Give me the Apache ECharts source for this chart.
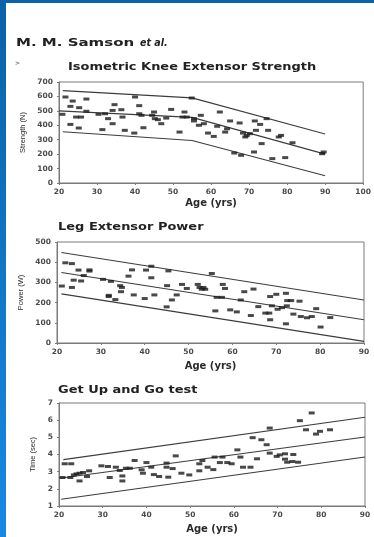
<!DOCTYPE html>
<html>
<head>
<meta charset="utf-8">
<script src="https://cdn.jsdelivr.net/npm/echarts@6/dist/echarts.min.js"></script>
<style>
  html, body { margin: 0; padding: 0; background: #ffffff; }
  #chart { width: 374px; height: 537px; }
</style>
</head>
<body>
<div id="chart"></div>
<script>
// Isometric knee extensor strength (N) by age
const kneeAge = [
  20.9,21.7,23.6,23.0,23.0,25.3,24.5,25.8,25.2,27.2,
  27.2,30.4,31.4,32.1,32.9,34.1,34.1,34.6,36.4,36.7,
  37.3,39.8,40.0,41.1,41.1,41.7,42.2,44.5,45.0,45.2,
  46.0,46.9,48.2,49.5,51.7,53.0,52.5,53.6,54.9,55.5,
  55.5,57.3,56.8,58.1,59.2,60.7,61.6,62.3,63.7,64.2,
  65.0,66.1,67.5,67.9,68.4,69.0,69.4,70.2,71.3,71.8,
  71.5,72.9,73.3,74.6,75.0,76.1,77.8,78.4,79.5,81.4,
  89.6,89.2
];
const kneeStrength = [
  476,596,568,531,406,522,457,457,381,582,
  497,476,370,480,446,411,503,543,508,457,
  365,346,596,536,480,469,383,469,492,446,
  439,411,450,510,353,492,457,457,589,446,
  430,469,400,411,346,323,393,492,353,376,
  430,208,416,192,346,319,330,342,215,365,
  430,406,273,446,365,169,319,330,176,279,
  215,203
];
// Regression line with its upper and lower limits (age, strength)
const kneeUpper  = [[21, 640], [55, 590], [90, 340]];
const kneeMiddle = [[20, 500], [55, 455], [90, 200]];
const kneeLower  = [[21, 355], [55, 295], [90, 50]];

// Leg extensor power (W) by age
const powerAge = [
  21.1,21.9,23.4,23.4,23.8,24.9,25.5,26.1,27.4,27.4,
  30.5,31.8,31.8,32.3,33.3,34.4,34.8,34.6,36.3,37.1,
  37.5,40.3,40.0,41.5,41.5,42.2,45.0,45.1,45.4,46.2,
  47.3,48.5,49.6,52.1,52.5,53.0,53.4,53.8,55.3,56.1,
  56.4,57.6,57.8,58.3,59.5,61.0,61.9,62.7,64.2,64.8,
  65.9,67.5,68.4,68.6,69.0,68.6,70.0,70.3,71.3,72.2,
  72.5,72.4,72.2,73.4,73.9,75.3,75.6,77.0,78.1,79.1,
  80.1,82.3
];
const powerWatts = [
  282,397,393,275,311,361,307,334,362,356,
  315,236,230,305,215,284,275,254,331,362,
  238,361,220,380,323,238,179,284,357,213,
  238,290,270,290,275,266,275,266,344,159,
  226,226,290,270,164,154,213,254,136,267,
  180,148,148,230,184,115,241,167,175,246,
  210,184,95,210,143,207,131,125,131,170,
  79,126
];
const powerUpper  = [[21, 448], [90, 213]];
const powerMiddle = [[21, 349], [90, 115]];
const powerLower  = [[21, 243], [90, 8]];

// Get Up and Go test time (sec) by age
const gugAge = [
  20.8,21.3,22.8,22.6,23.4,24.0,24.7,24.7,25.5,26.4,
  26.9,29.7,31.2,31.6,33.0,33.9,34.5,35.3,34.5,36.2,
  37.3,38.9,39.2,40.0,41.1,41.7,42.9,44.6,44.6,45.0,
  46.0,46.7,48.0,49.8,52.1,52.1,52.8,54.0,55.3,55.6,
  56.8,57.4,58.5,59.5,60.8,61.5,62.1,63.8,64.3,65.3,
  66.3,67.5,68.2,68.2,69.8,70.5,71.7,71.7,72.2,73.4,
  73.6,74.7,75.1,76.5,77.8,78.8,79.7,82.0
];
const gugTime = [
  2.66,3.46,3.46,2.66,2.81,2.87,2.46,2.91,2.95,2.72,
  3.05,3.34,3.30,2.66,3.26,3.07,2.75,3.20,2.46,3.20,
  3.65,3.11,2.91,3.53,3.26,2.83,2.72,3.50,3.26,2.68,
  3.18,3.92,2.91,2.81,3.05,3.46,3.65,3.26,3.12,3.85,
  3.53,3.85,3.53,3.46,4.27,3.85,3.26,3.26,4.98,3.75,
  4.86,4.57,5.54,4.08,3.89,3.98,4.04,3.73,3.55,3.59,
  4.00,3.55,5.97,5.44,6.42,5.19,5.35,5.44
];
const gugUpper  = [[21, 3.70], [90, 6.17]];
const gugMiddle = [[20.2, 2.62], [90, 5.02]];
const gugLower  = [[20.5, 1.39], [90, 3.85]];

const panelTitles = ['Isometric Knee Extensor Strength', 'Leg Extensor Power', 'Get Up and Go test'];
const yNames = ['Strength (N)', 'Power (W)', 'Time (sec)'];
const xName = 'Age (yrs)';
const author = 'M. M. Samson';
const authorSuffix = 'et al.';

const zip = (xs, ys) => xs.map((x, i) => [x, ys[i]]);

const tickFont = { fontFamily: 'DejaVu Sans', fontWeight: 'bold', fontSize: 7.5, color: '#4a4a4a' };
const nameFont = { fontFamily: 'DejaVu Sans', fontWeight: 'bold', fontSize: 10, color: '#2a2a2a' };
const yNameFont = { fontFamily: 'Liberation Sans Narrow, Liberation Sans', fontSize: 7.5, color: '#2a2a2a' };

function xAxis(gridIndex, max, gap) {
  return {
    type: 'value', gridIndex, min: 20, max, interval: 10,
    name: xName, nameLocation: 'middle', nameGap: gap, nameTextStyle: nameFont,
    axisLine: { show: true, lineStyle: { color: '#7a7a7a', width: 1 } },
    axisTick: { show: true, length: 2, lineStyle: { color: '#7a7a7a' } },
    axisLabel: Object.assign({ margin: 5 }, tickFont),
    splitLine: { show: false }
  };
}
function yAxis(gridIndex, min, max, interval, name, gap) {
  return {
    type: 'value', gridIndex, min, max, interval,
    name, nameLocation: 'middle', nameGap: gap, nameRotate: 90, nameTextStyle: yNameFont,
    axisLine: { show: true, lineStyle: { color: '#7a7a7a', width: 1 } },
    axisTick: { show: true, length: 2, lineStyle: { color: '#7a7a7a' } },
    axisLabel: Object.assign({ margin: 6 }, tickFont),
    splitLine: { show: false }
  };
}
function dots(i, data) {
  return {
    type: 'scatter', xAxisIndex: i, yAxisIndex: i, data,
    symbol: 'rect', symbolSize: [6, 3],
    itemStyle: { color: '#1c1c1c' }, silent: true, z: 3
  };
}
function band(i, data) {
  return {
    type: 'line', xAxisIndex: i, yAxisIndex: i, data,
    symbol: 'none', lineStyle: { color: '#3c3c3c', width: 1.1 }, silent: true, z: 2
  };
}
// Wide bold heading text, stretched horizontally from its left edge
function heading(text, x, y, sx, font) {
  return {
    type: 'text', x, y, scaleX: sx, originX: 0, originY: 0, silent: true,
    style: { text, font: font || 'bold 11px "DejaVu Sans"', fill: '#222',
             textAlign: 'left', textVerticalAlign: 'middle' }
  };
}

const chart = echarts.init(document.getElementById('chart'), null, { renderer: 'canvas' });
const frame = { show: true, borderColor: '#7a7a7a', borderWidth: 1, backgroundColor: 'transparent' };

chart.setOption({
  backgroundColor: '#ffffff',
  animation: false,
  grid: [
    Object.assign({ left: 59, top: 82, width: 309, height: 101 }, frame),
    Object.assign({ left: 57, top: 242, width: 307, height: 101 }, frame),
    Object.assign({ left: 59, top: 403, width: 306, height: 103 }, frame)
  ],
  xAxis: [xAxis(0, 100, 15), xAxis(1, 90, 18), xAxis(2, 90, 18)],
  yAxis: [
    yAxis(0, 0, 700, 100, yNames[0], 31),
    yAxis(1, 0, 500, 100, yNames[1], 30),
    yAxis(2, 1, 7, 1, yNames[2], 22)
  ],
  series: [
    band(0, kneeUpper), band(0, kneeMiddle), band(0, kneeLower),
    dots(0, zip(kneeAge, kneeStrength)),
    band(1, powerUpper), band(1, powerMiddle), band(1, powerLower),
    dots(1, zip(powerAge, powerWatts)),
    band(2, gugUpper), band(2, gugMiddle), band(2, gugLower),
    dots(2, zip(gugAge, gugTime))
  ],
  graphic: [
    // slide border: left and top blue strips
    { type: 'rect', left: 0, top: 0, shape: { width: 6, height: 537 },
      style: { fill: new echarts.graphic.LinearGradient(0, 0, 0, 1, [
        { offset: 0, color: '#0a62a8' }, { offset: 1, color: '#1789e4' }]) }, silent: true },
    { type: 'rect', left: 0, top: 0, shape: { width: 374, height: 3 },
      style: { fill: '#0a62a8' }, silent: true },
    // author line
    heading(author, 16, 43, 1.5, 'bold 10px "DejaVu Sans"'),
    heading(authorSuffix, 140, 43, 0.95, 'italic bold 10px "DejaVu Sans"'),
    { type: 'text', x: 15, y: 60, silent: true,
      style: { text: '>', font: 'bold 6px "DejaVu Sans"', fill: '#777' } },
    // panel titles
    heading(panelTitles[0], 68, 67, 1.18),
    heading(panelTitles[1], 58, 227, 1.18),
    heading(panelTitles[2], 58, 390, 1.18)
  ]
});
</script>
</body>
</html>
